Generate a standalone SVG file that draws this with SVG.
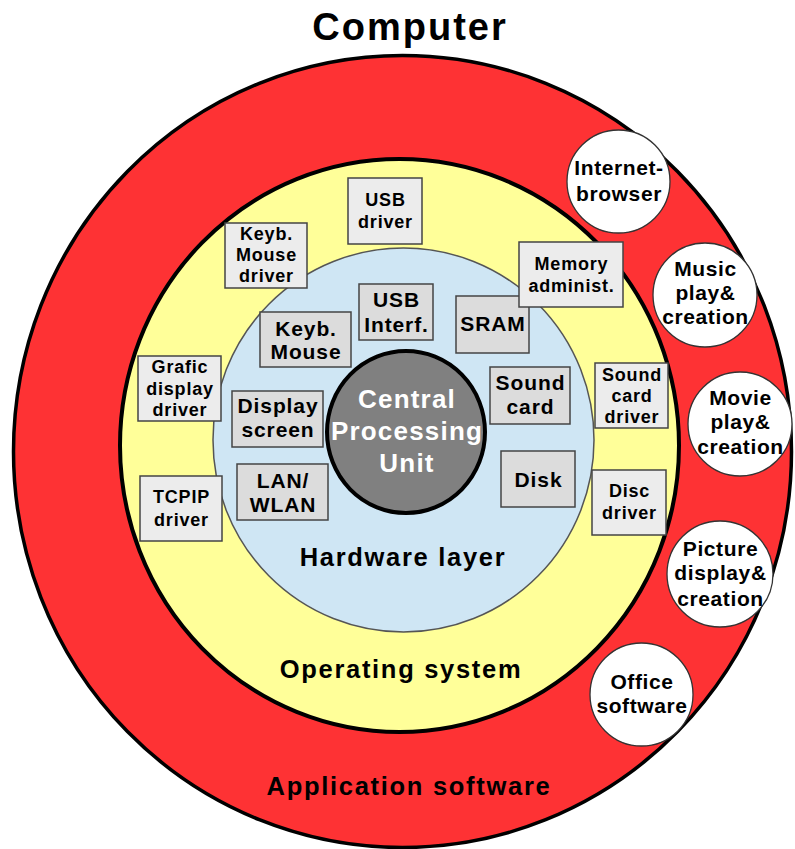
<svg xmlns="http://www.w3.org/2000/svg" width="795" height="849" viewBox="0 0 795 849">
<style>
text{font-family:"Liberation Sans",Arial,sans-serif;font-weight:bold;text-anchor:middle;fill:#000}
.big{font-size:25.5px;letter-spacing:1.7px}
.title{font-size:38px;letter-spacing:2px}
.cpu{font-size:26px;letter-spacing:1.2px;fill:#fff}
.hw rect{fill:#dcdcdc;stroke:#444;stroke-width:1.5}
.hw text{font-size:21px;letter-spacing:0.9px}
.os rect{fill:#ececec;stroke:#444;stroke-width:1.5}
.os text{font-size:18px;letter-spacing:0.8px}
.app circle{fill:#fff;stroke:#333;stroke-width:1.3}
.app text{font-size:21px;letter-spacing:0.6px}
</style>
<rect width="795" height="849" fill="#fff"/>
<g id="layer-application">
<ellipse cx="402.5" cy="451.5" rx="389" ry="396" fill="#fe3234" stroke="#000" stroke-width="3.5"/>
<text class="big" x="409" y="795">Application software</text>
</g>
<g id="layer-os">
<ellipse cx="399.5" cy="445.5" rx="279.5" ry="286.5" fill="#ffff99" stroke="#000" stroke-width="4"/>
<text class="big" x="401" y="678">Operating system</text>
</g>
<g id="layer-hardware">
<ellipse cx="403.5" cy="440" rx="190.5" ry="192" fill="#cfe6f4" stroke="#555" stroke-width="1.5"/>
<text class="big" x="403" y="566">Hardware layer</text>
</g>
<g id="cpu">
<ellipse cx="406" cy="432" rx="79" ry="81" fill="#808080" stroke="#000" stroke-width="4"/>
<text class="cpu" x="407" y="408">Central</text>
<text class="cpu" x="407" y="440">Processing</text>
<text class="cpu" x="407" y="472">Unit</text>
</g>
<g id="title"><text class="title" x="410" y="40">Computer</text></g>
<g id="connectors"/>
<g id="usb-interf" class="hw"><rect x="359" y="284" width="74" height="56"/><text x="396.5" y="307">USB</text><text x="396.5" y="332">Interf.</text></g>
<g id="keyb-mouse" class="hw"><rect x="260" y="312" width="91" height="55"/><text x="306" y="336">Keyb.</text><text x="306" y="359">Mouse</text></g>
<g id="display-screen" class="hw"><rect x="232" y="391" width="91" height="56"/><text x="278" y="413">Display</text><text x="278" y="437">screen</text></g>
<g id="lan-wlan" class="hw"><rect x="237" y="464" width="91" height="56"/><text x="283" y="488">LAN/</text><text x="283" y="512">WLAN</text></g>
<g id="sram" class="hw"><rect x="456" y="296" width="73" height="57"/><text x="493" y="331">SRAM</text></g>
<g id="sound-card" class="hw"><rect x="490" y="367" width="80" height="57"/><text x="530.5" y="390">Sound</text><text x="530.5" y="414">card</text></g>
<g id="disk" class="hw"><rect x="501" y="451" width="74" height="56"/><text x="538.5" y="487">Disk</text></g>
<g id="usb-driver" class="os"><rect x="348" y="178" width="74" height="66"/><text x="385.5" y="206">USB</text><text x="385.5" y="228">driver</text></g>
<g id="keyb-mouse-driver" class="os"><rect x="225" y="223" width="82" height="65"/><text x="266.5" y="240">Keyb.</text><text x="266.5" y="261">Mouse</text><text x="266.5" y="282">driver</text></g>
<g id="memory-administ" class="os"><rect x="519" y="242" width="104" height="65"/><text x="571.5" y="270">Memory</text><text x="571.5" y="292">administ.</text></g>
<g id="grafic-display-driver" class="os"><rect x="138" y="356" width="83" height="65"/><text x="180" y="373">Grafic</text><text x="180" y="395">display</text><text x="180" y="416">driver</text></g>
<g id="tcpip-driver" class="os"><rect x="140" y="476" width="82" height="65"/><text x="181.5" y="503">TCPIP</text><text x="181.5" y="526">driver</text></g>
<g id="sound-card-driver" class="os"><rect x="595" y="363" width="73" height="65"/><text x="632" y="381">Sound</text><text x="632" y="402">card</text><text x="632" y="423">driver</text></g>
<g id="disc-driver" class="os"><rect x="592" y="470" width="74" height="65"/><text x="629.5" y="497">Disc</text><text x="629.5" y="519">driver</text></g>
<g id="internet-browser" class="app"><circle cx="618.5" cy="181.5" r="51.5"/><text x="619" y="175">Internet-</text><text x="619" y="201">browser</text></g>
<g id="music" class="app"><circle cx="705" cy="295" r="52"/><text x="705.5" y="276">Music</text><text x="705.5" y="300">play&amp;</text><text x="705.5" y="324">creation</text></g>
<g id="movie" class="app"><circle cx="740" cy="424" r="52"/><text x="740.5" y="405">Movie</text><text x="740.5" y="429">play&amp;</text><text x="740.5" y="454">creation</text></g>
<g id="picture" class="app"><circle cx="720" cy="574" r="53"/><text x="720.5" y="556">Picture</text><text x="720.5" y="580">display&amp;</text><text x="720.5" y="606">creation</text></g>
<g id="office" class="app"><circle cx="641.5" cy="694.5" r="51.5"/><text x="642" y="689">Office</text><text x="642" y="713">software</text></g>
</svg>
